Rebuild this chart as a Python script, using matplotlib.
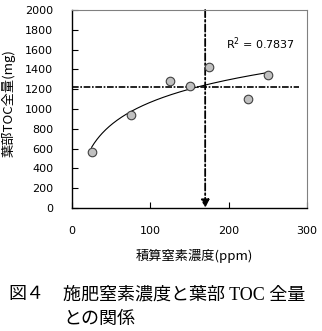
import numpy as np
import matplotlib
matplotlib.use('Agg')
import matplotlib.pyplot as plt

plt.rcParams['font.family'] = ['Noto Sans CJK JP', 'DejaVu Sans']

# data
nitrogen = [25, 75, 125, 150, 175, 225, 250]       # ppm
toc = [565, 940, 1283, 1229, 1427, 1098, 1340]     # mg
x_ticks = [0, 100, 200, 300]
y_ticks = list(range(0, 2001, 200))
cross_x = 170
cross_y = 1225
r2_text = 'R$^2$ = 0.7837'

fig = plt.figure(figsize=(3.22, 3.31), dpi=100)
ax = fig.add_axes([72 / 322, 1 - 208 / 331, 235 / 322, 198 / 331])

# log trend line
a, b = np.polyfit(np.log(nitrogen), toc, 1)
xs = np.linspace(min(nitrogen), max(nitrogen), 200)
ax.plot(xs, a * np.log(xs) + b, color='black', lw=0.8, zorder=2)

ax.scatter(nitrogen, toc, s=38, color='#c0c0c0', edgecolor='#404040',
           linewidth=0.8, zorder=3)

# reference lines
ax.plot([0, 290], [cross_y, cross_y], color='black', lw=1.2,
        ls=(0, (4, 1, 1, 1)), zorder=1)
ax.annotate('', xy=(cross_x, 0), xytext=(cross_x, 2000),
            arrowprops=dict(arrowstyle='-|>', color='black', lw=1.3,
                            ls=(0, (4, 1.5, 1, 1.5)), mutation_scale=12,
                            shrinkA=0, shrinkB=0), zorder=1)

ax.text(196, 1610, r2_text, fontsize=8, family='DejaVu Sans')

ax.set_xlim(0, 300)
ax.set_ylim(0, 2000)
ax.set_xticks(x_ticks)
ax.set_yticks(y_ticks)
ax.tick_params(direction='in', length=4, labelsize=8, width=0.8)
ax.tick_params(axis='x', pad=13)
ax.tick_params(axis='y', pad=13.5)
for lab in ax.get_xticklabels() + ax.get_yticklabels():
    lab.set_family('DejaVu Sans')

ax.spines['top'].set_color('#808080')
ax.spines['right'].set_color('#808080')
for s in ['left', 'bottom']:
    ax.spines[s].set_linewidth(1.0)

ax.set_ylabel('葉部TOC全量(mg)', fontsize=9.5, labelpad=7)
ax.yaxis.label.set_y(0.53)
ax.set_xlabel('積算窒素濃度(ppm)', fontsize=9.5, labelpad=9)
ax.xaxis.label.set_x(0.52)

cap_font = ['Liberation Serif', 'Noto Sans CJK JP']
fig.text(8 / 322, 1 - 295 / 331, '図４', fontsize=13, va='center',
         ha='left', family=cap_font)
fig.text(63 / 322, 1 - 295 / 331, '施肥窒素濃度と葉部 TOC 全量',
         fontsize=13, va='center', ha='left', family=cap_font)
fig.text(63 / 322, 1 - 319 / 331, 'との関係',
         fontsize=13, va='center', ha='left', family=cap_font)

fig.savefig('out.png', dpi=100)
